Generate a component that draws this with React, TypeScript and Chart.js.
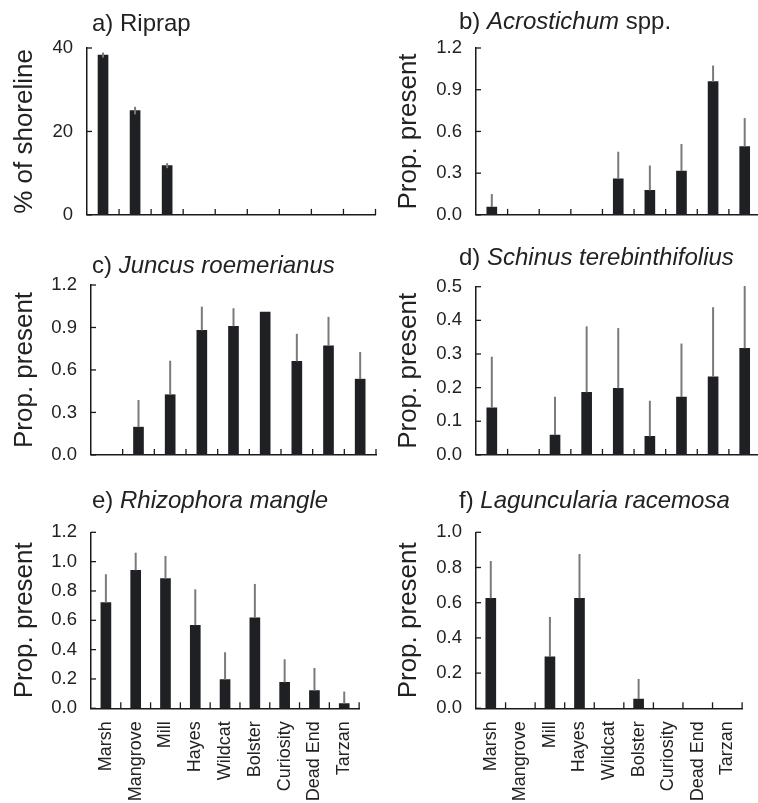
import React, { useEffect, useRef } from "react";
import { Chart, registerables } from "chart.js";

Chart.register(...registerables);

// ---------- data ----------
const sites = ["Marsh", "Mangrove", "Mill", "Hayes", "Wildcat", "Bolster", "Curiosity", "Dead End", "Tarzan"];

const riprapMean = [38.3, 25.0, 11.8, 0, 0, 0, 0, 0, 0];
const riprapErr = [0.6, 0.9, 0.6, 0, 0, 0, 0, 0, 0];

const acrostichumMean = [0.057, 0, 0, 0, 0.26, 0.176, 0.315, 0.958, 0.491];
const acrostichumErr = [0.093, 0, 0, 0, 0.194, 0.179, 0.195, 0.116, 0.205];

const juncusMean = [0, 0.196, 0.425, 0.879, 0.908, 1.008, 0.661, 0.77, 0.535];
const juncusErr = [0, 0.192, 0.24, 0.168, 0.128, 0, 0.194, 0.205, 0.192];

const schinusMean = [0.14, 0, 0.059, 0.186, 0.198, 0.055, 0.172, 0.232, 0.317];
const schinusErr = [0.152, 0, 0.114, 0.196, 0.179, 0.106, 0.159, 0.207, 0.185];

const rhizophoraMean = [0.72, 0.941, 0.884, 0.566, 0.195, 0.616, 0.177, 0.12, 0.032];
const rhizophoraErr = [0.194, 0.12, 0.155, 0.245, 0.187, 0.232, 0.157, 0.155, 0.082];

const lagunculariaMean = [0.625, 0, 0.292, 0.625, 0, 0.053, 0, 0, 0];
const lagunculariaErr = [0.212, 0, 0.227, 0.252, 0, 0.114, 0, 0, 0];

const riprapTicks = [0, 20, 40];
const prop12Ticks = [0, 0.3, 0.6, 0.9, 1.2];
const prop05Ticks = [0, 0.1, 0.2, 0.3, 0.4, 0.5];
const prop12by2Ticks = [0, 0.2, 0.4, 0.6, 0.8, 1.0, 1.2];
const prop10Ticks = [0, 0.2, 0.4, 0.6, 0.8, 1.0];

// ---------- styling ----------
const FONT = "'Liberation Sans', Arial, Helvetica, sans-serif";
const TEXT = "#222222";
const BAR = "#1f2024";
const ERR = "#7a7a7a";
const AXIS = "#1a1a1a";

type Box = {
  left: number; top: number; width: number; height: number;
  plotLeft: number; plotTop: number; plotBottom: number; padRight: number;
  titleX: number; titleBaseline: number; yTitlePad: number;
};

type PanelDef = {
  prefix: string; italic: string; suffix: string;
  means: number[]; errs: number[]; symmetric: boolean;
  ticks: number[]; decimals: number; yTitle: string; showX: boolean;
  box: Box;
};

const panels: PanelDef[] = [
  {
    prefix: "a) Riprap", italic: "", suffix: "",
    means: riprapMean, errs: riprapErr, symmetric: true,
    ticks: riprapTicks, decimals: 0, yTitle: "% of shoreline", showX: false,
    box: { left: 0, top: 0, width: 379, height: 240, plotLeft: 87, plotTop: 48, plotBottom: 220, padRight: 3.5, titleX: 92, titleBaseline: 31, yTitlePad: 9 },
  },
  {
    prefix: "b) ", italic: "Acrostichum", suffix: " spp.",
    means: acrostichumMean, errs: acrostichumErr, symmetric: false,
    ticks: prop12Ticks, decimals: 1, yTitle: "Prop. present", showX: false,
    box: { left: 379, top: 0, width: 383, height: 240, plotLeft: 97, plotTop: 48, plotBottom: 229, padRight: 1.5, titleX: 80, titleBaseline: 28.5, yTitlePad: 14 },
  },
  {
    prefix: "c) ", italic: "Juncus roemerianus", suffix: "",
    means: juncusMean, errs: juncusErr, symmetric: false,
    ticks: prop12Ticks, decimals: 1, yTitle: "Prop. present", showX: false,
    box: { left: 0, top: 240, width: 379, height: 240, plotLeft: 91, plotTop: 45, plotBottom: 228.3, padRight: 3, titleX: 92, titleBaseline: 32.7, yTitlePad: 9 },
  },
  {
    prefix: "d) ", italic: "Schinus terebinthifolius", suffix: "",
    means: schinusMean, errs: schinusErr, symmetric: false,
    ticks: prop05Ticks, decimals: 1, yTitle: "Prop. present", showX: false,
    box: { left: 379, top: 240, width: 383, height: 240, plotLeft: 97, plotTop: 46.7, plotBottom: 227.3, padRight: 1.5, titleX: 80, titleBaseline: 25, yTitlePad: 14 },
  },
  {
    prefix: "e) ", italic: "Rhizophora mangle", suffix: "",
    means: rhizophoraMean, errs: rhizophoraErr, symmetric: false,
    ticks: prop12by2Ticks, decimals: 1, yTitle: "Prop. present", showX: true,
    box: { left: 0, top: 480, width: 379, height: 323, plotLeft: 91, plotTop: 52.3, plotBottom: 228.3, padRight: 3, titleX: 92, titleBaseline: 28.3, yTitlePad: 9 },
  },
  {
    prefix: "f) ", italic: "Laguncularia racemosa", suffix: "",
    means: lagunculariaMean, errs: lagunculariaErr, symmetric: false,
    ticks: prop10Ticks, decimals: 1, yTitle: "Prop. present", showX: true,
    box: { left: 379, top: 480, width: 383, height: 323, plotLeft: 97, plotTop: 52.3, plotBottom: 228.3, padRight: 1.5, titleX: 80, titleBaseline: 28.3, yTitlePad: 14 },
  },
];

function makePlugin(p: PanelDef) {
  return {
    id: "panelDecor",
    afterDatasetsDraw(chart: any) {
      const ctx = chart.ctx;
      const ys = chart.scales.y;
      const meta = chart.getDatasetMeta(0);
      ctx.save();
      ctx.strokeStyle = ERR;
      ctx.lineWidth = 2;
      meta.data.forEach((el: any, i: number) => {
        const e = p.errs[i];
        if (!e) return;
        const top = ys.getPixelForValue(p.means[i] + e);
        const bot = p.symmetric ? ys.getPixelForValue(p.means[i] - e) : el.y;
        ctx.beginPath();
        ctx.moveTo(el.x, top);
        ctx.lineTo(el.x, bot);
        ctx.stroke();
      });
      ctx.restore();
    },
    afterDraw(chart: any) {
      const ctx = chart.ctx;
      const ca = chart.chartArea;
      const ys = chart.scales.y;
      const meta = chart.getDatasetMeta(0);
      ctx.save();
      ctx.strokeStyle = AXIS;
      ctx.lineWidth = 1.3;
      // inward y ticks
      ys.ticks.forEach((_t: any, i: number) => {
        const py = ys.getPixelForTick(i);
        ctx.beginPath();
        ctx.moveTo(ca.left, py);
        ctx.lineTo(ca.left + 5, py);
        ctx.stroke();
      });
      // inward x ticks at category boundaries
      const pts = meta.data;
      if (pts.length > 1) {
        const step = pts[1].x - pts[0].x;
        pts.forEach((el: any) => {
          const px = el.x + step / 2;
          ctx.beginPath();
          ctx.moveTo(px, ca.bottom);
          ctx.lineTo(px, ca.bottom - 6);
          ctx.stroke();
        });
      }
      ctx.restore();

      // panel title (mixed upright / italic)
      ctx.save();
      ctx.fillStyle = TEXT;
      ctx.textBaseline = "alphabetic";
      ctx.textAlign = "left";
      let x = p.box.titleX;
      const y = p.box.titleBaseline;
      const parts: [string, boolean][] = [[p.prefix, false], [p.italic, true], [p.suffix, false]];
      parts.forEach(([txt, it]) => {
        if (!txt) return;
        ctx.font = `${it ? "italic " : ""}24px ${FONT}`;
        ctx.fillText(txt, x, y);
        x += ctx.measureText(txt).width;
      });
      ctx.restore();
    },
  };
}

function Panel({ p }: { p: PanelDef }) {
  const ref = useRef<HTMLCanvasElement | null>(null);
  useEffect(() => {
    if (!ref.current) return;
    const b = p.box;
    const yMax = p.ticks[p.ticks.length - 1];
    const yStep = p.ticks[1] - p.ticks[0];
    const chart = new Chart(ref.current, {
      type: "bar",
      data: {
        labels: sites,
        datasets: [
          {
            data: p.means,
            backgroundColor: BAR,
            borderWidth: 0,
            barThickness: 10,
          },
        ],
      },
      options: {
        animation: false,
        responsive: false,
        devicePixelRatio: 1,
        events: [],
        layout: { padding: { top: b.plotTop, right: b.padRight, left: 0, bottom: 0 } },
        plugins: { legend: { display: false }, tooltip: { enabled: false }, title: { display: false } },
        scales: {
          x: {
            type: "category",
            offset: true,
            grid: { display: false, drawTicks: false },
            border: { display: true, color: AXIS, width: 1.5 },
            ticks: {
              display: p.showX,
              autoSkip: false,
              minRotation: 90,
              maxRotation: 90,
              padding: 13,
              color: TEXT,
              font: { family: FONT, size: 18 },
            },
            afterFit: (s: any) => {
              s.height = b.height - b.plotBottom;
            },
          },
          y: {
            min: 0,
            max: yMax,
            grid: { display: false, drawTicks: false },
            border: { display: true, color: AXIS, width: 1.5 },
            ticks: {
              stepSize: yStep,
              padding: 14,
              color: TEXT,
              font: { family: FONT, size: 18.5 },
              callback: (v: any) => Number(v).toFixed(p.decimals),
            },
            title: {
              display: true,
              text: p.yTitle,
              color: TEXT,
              font: { family: FONT, size: 26 },
              padding: { top: b.yTitlePad, bottom: 0 },
            },
            afterFit: (s: any) => {
              s.width = b.plotLeft;
            },
          },
        },
      },
      plugins: [makePlugin(p)],
    } as any);
    return () => chart.destroy();
  }, [p]);
  const b = p.box;
  return (
    <div style={{ position: "absolute", left: b.left, top: b.top, width: b.width, height: b.height }}>
      <canvas ref={ref} width={b.width} height={b.height} style={{ display: "block", width: b.width, height: b.height }} />
    </div>
  );
}

export default function App() {
  return (
    <div
      style={{
        position: "fixed",
        left: 0,
        top: 0,
        width: 758,
        height: 803,
        overflow: "hidden",
        background: "#ffffff",
      }}
    >
      {panels.map((p, i) => (
        <Panel key={i} p={p} />
      ))}
    </div>
  );
}
